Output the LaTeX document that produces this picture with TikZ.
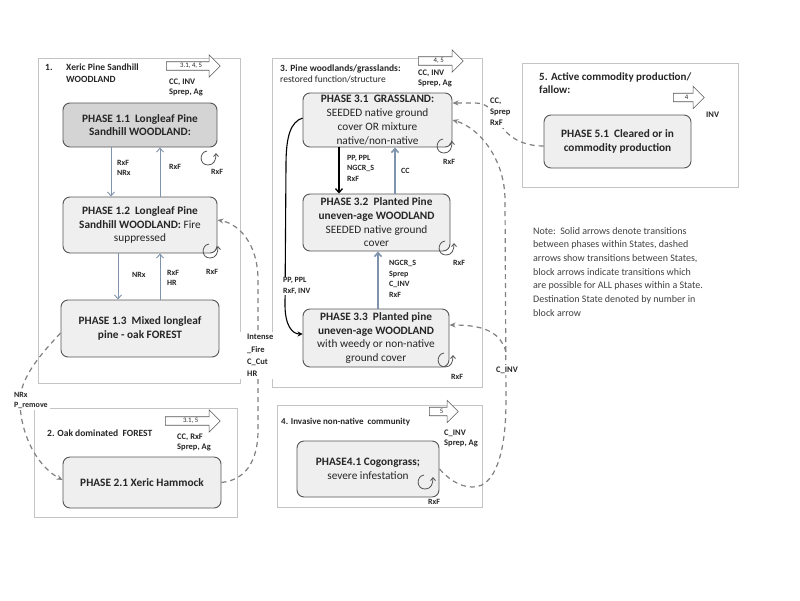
\documentclass[tikz,border=0pt]{standalone}
\usepackage{fontspec}
\setmainfont{Carlito}
\usetikzlibrary{arrows.meta,shapes.arrows}
\definecolor{phaseline}{HTML}{555555}
\definecolor{phasefill}{HTML}{EFEFEF}
\definecolor{phasedark}{HTML}{D4D4D4}
\definecolor{stateline}{HTML}{C4C4C4}
\definecolor{textdark}{HTML}{262626}
\definecolor{arrowblue}{HTML}{7F93AD}
\definecolor{dashgray}{HTML}{808080}
\definecolor{notegray}{HTML}{404040}
\tikzset{
  phase/.style={draw=phaseline, line width=0.9pt, rounded corners=7pt, fill=phasefill,
    align=center, inner sep=0pt, text=textdark,
    font=\fontsize{11.3}{13.7}\selectfont\bfseries},
  statebox/.style={draw=stateline, line width=0.8pt, inner sep=0pt},
  blockarr/.style={single arrow, draw=phaseline, line width=0.6pt, fill=white,
    single arrow head extend=7pt, inner xsep=2pt, inner ysep=1.2pt,
    text height=4.5pt, text depth=1pt, anchor=tail, text=textdark,
    font=\fontsize{6.8}{7}\selectfont},
  statetitle/.style={font=\fontsize{9.5}{12}\selectfont\bfseries, text=textdark,
    align=left, inner sep=0pt, anchor=west},
  tlabel/.style={font=\fontsize{8}{10.5}\selectfont\bfseries, text=textdark,
    align=left, inner sep=1pt, anchor=west},
  blabel/.style={font=\fontsize{8.5}{10}\selectfont\bfseries, text=textdark,
    align=left, inner sep=0pt, anchor=west},
  dlabel/.style={font=\fontsize{8.5}{12.3}\selectfont\bfseries, text=textdark,
    fill=white, align=left, inner sep=2pt},
  thinblue/.style={draw=arrowblue, line width=0.9pt,
    -{Straight Barb[length=4pt,width=7pt]}},
  thickblue/.style={draw=arrowblue, line width=1.6pt,
    -{Straight Barb[length=4pt,width=7pt]}},
  blackarr/.style={draw=black, line width=1.3pt,
    -{Straight Barb[length=4pt,width=7pt]}},
  blackcurve/.style={draw=black, line width=1.1pt,
    -{Stealth[length=5pt,width=5pt]}},
  dconn/.style={draw=dashgray, line width=1.2pt, dash pattern=on 5pt off 4pt,
    -{Stealth[length=6pt,width=5pt]}},
  loopline/.style={draw=phaseline, line width=0.8pt,
    -{Straight Barb[length=3pt,width=5pt]}},
  selfloop/.pic={\draw[loopline] (-1,-7) .. controls (-9,-6) and (-9,7) .. (0,7)
      .. controls (6,7) and (8,2) .. (8,-5);}
}
\begin{document}
\begin{tikzpicture}[x=1pt,y=-1pt]
\useasboundingbox (0,0) rectangle (800,600);
\fill[white] (0,0) rectangle (800,600);

% ---------------- state boxes
\node[statebox, minimum width=202pt, minimum height=325pt] (s1) at (139,220.5) {};
\node[statebox, minimum width=203pt, minimum height=109pt] (s2) at (135.5,462.5) {};
\node[statebox, minimum width=210pt, minimum height=329pt] (s3) at (377,222.5) {};
\node[statebox, minimum width=205pt, minimum height=102pt] (s4) at (379.5,456) {};
\node[statebox, minimum width=216pt, minimum height=124pt] (s5) at (630,125) {};

% ---------------- state titles
\node[statetitle] (t1n) at (45,67) {1.};
\node[statetitle] (t1) at (66,73) {Xeric Pine Sandhill\\WOODLAND};
\node[statetitle] (t2) at (47,433) {2. Oak dominated~~FOREST};
\node[statetitle, font=\fontsize{9.5}{11}\selectfont\bfseries] (t3) at (280,73.5)
  {3. Pine woodlands/grasslands:\\\mdseries restored function/structure};
\node[statetitle, font=\fontsize{9}{11}\selectfont\bfseries] (t4) at (281,422)
  {4. Invasive non-native~~community};
\node[statetitle, font=\fontsize{11}{12.5}\selectfont\bfseries] (t5) at (539,83)
  {5. Active commodity production/\\fallow:};

% ---------------- block arrows
\node[blockarr, minimum height=54pt] (b1) at (166,66) {3.1, 4, 5};
\node[blabel] (b1l) at (169,87) {CC, INV\\Sprep, Ag};
\node[blockarr, minimum height=55pt] (b2) at (165,421) {3.1, 5};
\node[blabel] (b2l) at (177,442) {CC, RxF\\Sprep, Ag};
\node[blockarr, minimum height=45pt] (b3) at (418,61) {4, 5};
\node[blabel] (b3l) at (418,78) {CC, INV\\Sprep, Ag};
\node[blockarr, minimum height=29pt] (b4) at (429,411.5) {5};
\node[blabel] (b4l) at (444,438) {C\_INV\\Sprep, Ag};
\node[blockarr, minimum height=31pt] (b5) at (673,97.5) {4};
\node[blabel] (b5l) at (706,115) {INV};

% ---------------- phases
\node[phase, fill=phasedark, minimum width=154pt, minimum height=44pt] (p11) at (140,125)
  {PHASE 1.1~~Longleaf Pine\\Sandhill WOODLAND:};
\node[phase, minimum width=154pt, minimum height=56pt] (p12) at (140,225)
  {PHASE 1.2~~Longleaf Pine\\Sandhill WOODLAND: \mdseries Fire\\\mdseries suppressed};
\node[phase, minimum width=158pt, minimum height=57pt] (p13) at (140,328.5)
  {PHASE 1.3~~Mixed longleaf\\pine - oak FOREST};
\node[phase, minimum width=158pt, minimum height=51pt] (p21) at (142,482.5)
  {PHASE 2.1 Xeric Hammock};
\node[phase, minimum width=149pt, minimum height=54pt] (p31) at (377.5,120)
  {PHASE 3.1~~GRASSLAND:\\\mdseries SEEDED native ground\\\mdseries cover OR mixture\\\mdseries native/non-native};
\node[phase, minimum width=147pt, minimum height=57pt] (p32) at (376.5,222.5)
  {PHASE 3.2~~Planted Pine\\uneven-age WOODLAND\\\mdseries SEEDED native ground\\\mdseries cover};
\node[phase, minimum width=146pt, minimum height=58pt] (p33) at (376,338)
  {PHASE 3.3~~Planted pine\\uneven-age WOODLAND\\\mdseries with weedy or non-native\\\mdseries ground cover};
\node[phase, minimum width=142pt, minimum height=56pt] (p41) at (368,469)
  {PHASE4.1 Cogongrass;\\\mdseries severe infestation};
\node[phase, minimum width=147pt, minimum height=53pt] (p51) at (617.5,141.5)
  {PHASE 5.1~~Cleared or in\\commodity production};

% ---------------- self loops
\pic at (208,158) {selfloop};
\node[tlabel] (r11) at (210,172) {RxF};
\pic at (210,251) {selfloop};
\node[tlabel] (r12) at (205,272) {RxF};
\pic at (444,146) {selfloop};
\node[tlabel] (r31) at (442,162) {RxF};
\pic at (446,248) {selfloop};
\node[tlabel] (r32) at (452,263) {RxF};
\pic at (445,360) {selfloop};
\node[tlabel] (r33) at (450,377) {RxF};
\pic at (425,482) {selfloop};
\node[tlabel] (r41) at (427,502) {RxF};

% ---------------- state 1 transitions
\draw[thinblue] ([xshift=-29pt]p11.south) -- ([xshift=-29pt]p12.north);
\draw[thinblue] ([xshift=20pt]p12.north) -- ([xshift=20pt]p11.south);
\node[tlabel] (l1a) at (116,168) {RxF\\NRx};
\node[tlabel] (l1b) at (168,167) {RxF};
\draw[thinblue] ([xshift=-22pt]p12.south) -- ([xshift=-22pt]p13.north);
\draw[thinblue] ([xshift=20pt]p13.north) -- ([xshift=20pt]p12.south);
\node[tlabel] (l1c) at (131,275) {NRx};
\node[tlabel] (l1d) at (166,278) {RxF\\HR};

% ---------------- state 3 transitions
\draw[blackarr] ([xshift=-38.5pt]p31.south) -- ([xshift=-37.5pt]p32.north);
\node[tlabel] (l3a) at (346,168) {PP, PPL\\NGCR\_S\\RxF};
\draw[thickblue] ([xshift=18.5pt]p32.north) -- ([xshift=17.5pt]p31.south);
\node[tlabel] (l3b) at (400,171) {CC};
\draw[thickblue] ([xshift=2pt]p33.north) -- ([xshift=1.5pt]p32.south);
\node[tlabel] (l3c) at (388,279) {NGCR\_S\\Sprep\\C\_INV\\RxF};
\draw[blackcurve] ([yshift=2pt]p31.west) .. controls (291,122) and (286,135) .. (286,165)
  -- (285,305) .. controls (285,325) and (292,334) .. ([yshift=4pt]p33.west);
\node[tlabel, fill=white] (l3d) at (282,286) {PP, PPL\\RxF, INV};

% ---------------- dashed transitions between states
\draw[dconn] ([yshift=-4.5pt]p13.west) .. controls (40,355) and (18,380) .. (20,405)
  .. controls (22,440) and (40,468) .. ([yshift=2.5pt]p21.west);
\node[dlabel, anchor=west, font=\fontsize{8}{10}\selectfont\bfseries] (l12) at (12,400) {NRx\\P\_remove};

\draw[dconn] (p21.east) .. controls (245,480) and (258,462) .. (258,430)
  -- (258,280) .. controls (258,245) and (240,224) .. ([yshift=5pt]p12.east);
\node[dlabel, anchor=north west, inner xsep=8pt] (l21) at (239,332) {Intense\\\_Fire\\C\_Cut\\HR};

\draw[dconn] (p41.east) .. controls (455,486) and (470,490) .. (482,485)
  .. controls (500,475) and (506,440) .. (506,400) -- (505,200)
  .. controls (505,160) and (480,128) .. (p31.east);
\coordinate (br) at (506,352);
\draw[dconn] (br) .. controls (500,330) and (480,325) .. ([yshift=13pt]p33.east);
\node[dlabel] (l43) at (507,370) {C\_INV};

\draw[dconn] ([yshift=-4.5pt]p51.west) .. controls (520,146) and (505,135) .. (498,120)
  .. controls (492,108) and (485,103) .. (475,103) -- ([yshift=17pt]p31.east);
\node[dlabel, anchor=north west, font=\fontsize{8.5}{11}\selectfont\bfseries] (l53) at (488,96) {CC,\\Sprep\\RxF};

% ---------------- note
\node[anchor=north west, align=left, inner sep=0pt, text=notegray,
  font=\fontsize{10}{13.7}\selectfont] (note) at (533,227)
  {Note:~~Solid arrows denote transitions\\between phases within States, dashed\\arrows show transitions between States,\\block arrows indicate transitions which\\are possible for ALL phases within a State.\\Destination State denoted by number in\\block arrow};
\end{tikzpicture}
\end{document}
